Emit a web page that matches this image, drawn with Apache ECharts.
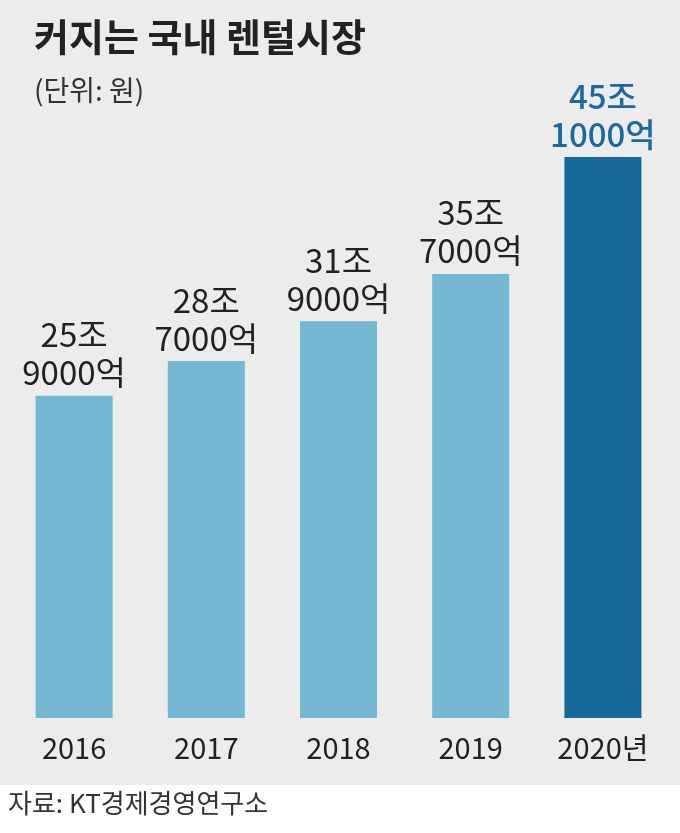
<!DOCTYPE html>
<html><head><meta charset="utf-8">
<script src="https://cdn.jsdelivr.net/npm/echarts@6/dist/echarts.min.js"></script>
<style>html,body{margin:0;padding:0;background:#ececec}#c{width:680px;height:833px}</style>
</head><body><div id="c"></div>
<script>
const categories = ['2016','2017','2018','2019','2020년'];
const values = [25.9, 28.7, 31.9, 35.7, 45.1];
const valueLabels = ['25조\n9000억','28조\n7000억','31조\n9000억','35조\n7000억','45조\n1000억'];
const F = '"Noto Sans CJK KR", "Noto Sans", sans-serif';
const chart = echarts.init(document.getElementById('c'));
chart.setOption({
  backgroundColor: '#ececec',
  animation: false,
  graphic: [
    {type:'rect', left:0, top:785, shape:{width:680, height:48}, style:{fill:'#ffffff'}},
    {type:'text', left:34, top:18, style:{text:'커지는 국내 렌털시장', font:'bold 38px '+F, fill:'#222'}},
    {type:'text', left:34, top:76, style:{text:'(단위: 원)', font:'28px '+F, fill:'#333'}},
    {type:'text', left:8, top:790, style:{text:'자료: KT경제경영연구소', font:'26px '+F, fill:'#333'}}
  ],
  grid: {left: 8, right: 11, top: 157, bottom: 115},
  xAxis: {
    type:'category', data: categories,
    axisLine:{show:false}, axisTick:{show:false},
    axisLabel:{fontFamily:F, fontSize:29, color:'#222', margin:15}
  },
  yAxis: {type:'value', min:0, max:45.1, show:false, splitLine:{show:false}},
  series: [{
    type:'bar', barWidth:77,
    data: values.map((v,i)=>({
      value:v,
      itemStyle:{color: i===4 ? '#156899' : '#74b8d4'},
      label:{color: i===4 ? '#1a6aa0' : '#222', fontWeight: i===4 ? 500 : 400}
    })),
    label:{show:true, position:'top', distance:4, fontFamily:F, fontSize:33, lineHeight:38,
      formatter: p => valueLabels[p.dataIndex]}
  }]
});
</script></body></html>
